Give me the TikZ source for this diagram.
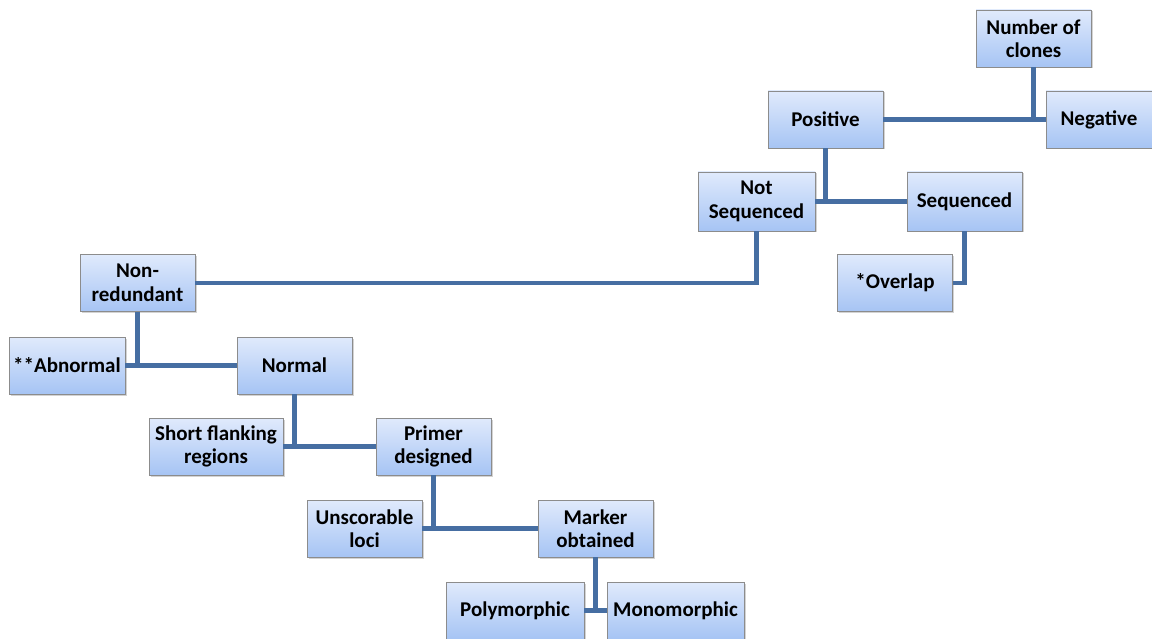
\documentclass[tikz,border=0pt]{standalone}
\usepackage{fontspec}
\setmainfont{Carlito}
\usetikzlibrary{shadows}
\definecolor{conncol}{RGB}{70,110,162}
\definecolor{boxtop}{RGB}{224,234,252}
\definecolor{boxbot}{RGB}{166,196,244}
\definecolor{boxline}{RGB}{140,140,140}
\tikzset{
  box/.style={draw=boxline, line width=0.8pt, top color=boxtop, bottom color=boxbot,
    minimum width=115pt, minimum height=57pt, inner sep=1pt, align=center,
    font=\fontsize{21}{23.5}\selectfont\bfseries,
    drop shadow={shadow xshift=1.5pt, shadow yshift=-1.5pt, opacity=0.35}},
  conn/.style={draw=conncol, line width=4.5pt}
}
\begin{document}
\begin{tikzpicture}[x=1pt,y=-1pt]
\useasboundingbox (0,0) rectangle (1152,639);
\node[box] (ncl) at (1033.5,38.5) {Number of\\clones};
\node[box] (pos) at (825.5,119.5) {Positive};
\node[box, minimum width=106pt] (neg) at (1099,119.5) {Negative};
\node[box, minimum width=117pt, minimum height=59pt] (nseq) at (756.5,201.5) {Not\\Sequenced};
\node[box, minimum height=59pt] (seq) at (964.5,201.5) {Sequenced};
\node[box] (ovl) at (895,283) {*Overlap};
\node[box] (nonred) at (137.5,283) {Non-\\redundant};
\node[box, minimum width=116pt] (abn) at (67,365.5) {**Abnormal};
\node[box] (nor) at (294.5,365.5) {Normal};
\node[box, minimum width=134pt] (sfr) at (216,446.5) {Short flanking\\regions};
\node[box] (pri) at (433.5,446.5) {Primer\\designed};
\node[box] (uns) at (364.5,528.5) {Unscorable\\loci};
\node[box] (mar) at (595.5,528.5) {Marker\\obtained};
\node[box, minimum width=138pt] (poly) at (515,610.5) {Polymorphic};
\node[box, minimum width=137pt] (mono) at (675.5,610.5) {Monomorphic};
% connectors
\draw[conn] (pos.east) -- (neg.west);
\draw[conn] (ncl.south) -- (ncl.south |- neg.west);
\draw[conn] (nseq.east) -- (seq.west);
\draw[conn] (pos.south) -- (pos.south |- seq.west);
\draw[conn] (nseq.south) |- (nonred.east);
\draw[conn] (seq.south) |- (ovl.east);
\draw[conn] (abn.east) -- (nor.west);
\draw[conn] (nonred.south) -- (nonred.south |- nor.west);
\draw[conn] (sfr.east) -- (pri.west);
\draw[conn] (nor.south) -- (nor.south |- pri.west);
\draw[conn] (uns.east) -- (mar.west);
\draw[conn] (pri.south) -- (pri.south |- mar.west);
\draw[conn] (poly.east) -- (mono.west);
\draw[conn] (mar.south) -- (mar.south |- mono.west);
\end{tikzpicture}
\end{document}
